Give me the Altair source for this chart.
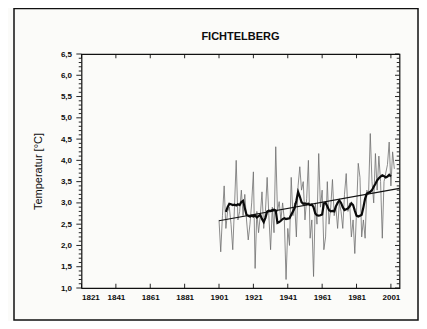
import altair as alt
import pandas as pd

# ---------------- data ----------------
years = list(range(1901, 2004))
annual = [
    2.6, 1.85, 2.7, 3.4, 2.4, 2.8, 2.9, 2.5, 1.9, 2.9,      # 1901-1910
    4.0, 2.6, 2.8, 3.3, 2.7, 3.2, 2.6, 2.13, 2.5, 3.0,      # 1911-1920
    3.73, 1.46, 2.8, 2.3, 2.7, 3.26, 2.4, 2.8, 3.6, 2.7,    # 1921-1930
    1.9, 2.9, 2.3, 4.32, 2.8, 3.03, 2.6, 3.0, 2.6, 1.2,     # 1931-1940
    2.4, 2.0, 3.6, 2.7, 3.0, 2.2, 3.4, 3.85, 3.3, 3.5,      # 1941-1950
    2.6, 3.1, 4.0, 2.17, 2.6, 1.27, 3.0, 2.5, 4.16, 2.9,    # 1951-1960
    3.3, 1.9, 2.2, 3.5, 2.5, 2.9, 3.55, 2.7, 2.9, 2.4,      # 1961-1970
    3.0, 2.8, 2.4, 3.2, 3.69, 2.8, 3.0, 2.2, 2.6, 1.81,     # 1971-1980
    2.8, 3.93, 3.6, 2.2, 2.6, 2.17, 3.3, 3.2, 4.63, 3.5,    # 1981-1990
    3.0, 4.16, 3.3, 4.1, 3.5, 2.17, 3.5, 3.7, 3.9, 4.43,    # 1991-2000
    3.4, 4.2, 3.8,                                          # 2001-2003
]

smooth_years = list(range(1905, 2002))
smooth = [
    2.79, 2.90, 2.98, 2.97, 2.95, 2.96, 2.94, 2.97, 2.95, 3.02,   # 1905-1914
    3.05, 2.88, 2.72, 2.70, 2.68, 2.70, 2.68, 2.71, 2.66, 2.69,   # 1915-1924
    2.72, 2.62, 2.55, 2.65, 2.80, 2.82, 2.81, 2.83, 2.84, 2.82,   # 1925-1934
    2.53, 2.55, 2.58, 2.62, 2.64, 2.62, 2.63, 2.64, 2.72, 2.80,   # 1935-1944
    2.88, 3.05, 3.26, 3.15, 3.02, 2.98, 2.99, 2.97, 2.98, 2.95,   # 1945-1954
    2.96, 2.90, 2.75, 2.71, 2.70, 2.71, 2.73, 2.99, 3.00, 2.92,   # 1955-1964
    2.83, 2.80, 2.81, 2.80, 2.92, 3.00, 3.06, 3.00, 2.90, 2.83,   # 1965-1974
    2.85, 2.87, 2.92, 2.99, 2.95, 2.82, 2.70, 2.68, 2.70, 2.72,   # 1975-1984
    2.90, 3.10, 3.22, 3.24, 3.26, 3.30, 3.38, 3.45, 3.53, 3.58,   # 1985-1994
    3.62, 3.65, 3.63, 3.60, 3.62, 3.66, 3.62,                     # 1995-2001
]

trend_years = [1901, 2006]
trend = [2.58, 3.34]

x_tick_years = [1821, 1841, 1861, 1881, 1901, 1921, 1941, 1961, 1981, 2001]
y_label_values = [1.0, 1.5, 2.0, 2.5, 3.0, 3.5, 4.0, 4.5, 5.0, 5.5, 6.0, 6.5]
y_minor_values = [round(1.0 + 0.1 * i, 1) for i in range(56)]

chart_title = "FICHTELBERG"
y_title = "Temperatur [°C]"

X_MIN, X_MAX = 1821, 2006
Y_MIN, Y_MAX = 1.0, 6.5
FONT = "Liberation Sans"
INK = "#0d0d0d"

# ---------------- tables ----------------
df_annual = pd.DataFrame({"year": years, "temp": annual})
df_smooth = pd.DataFrame({"year": smooth_years, "temp": smooth})
df_trend = pd.DataFrame({"year": trend_years, "temp": trend})

tick_rows = []
for yr in x_tick_years:
    tick_rows.append({"year": yr, "year2": yr, "temp": Y_MIN, "temp2": Y_MIN + 0.1})
    tick_rows.append({"year": yr, "year2": yr, "temp": Y_MAX, "temp2": Y_MAX - 0.1})
for v in y_minor_values:
    major = round(v * 10) % 5 == 0
    tick_rows.append({"year": X_MIN, "year2": X_MIN - (3.0 if major else 1.6), "temp": v, "temp2": v})
    tick_rows.append({"year": X_MAX, "year2": X_MAX - (2.6 if major else 1.6), "temp": v, "temp2": v})
df_ticks = pd.DataFrame(tick_rows)

xs = alt.Scale(domain=[X_MIN, X_MAX], nice=False, zero=False)
ys = alt.Scale(domain=[Y_MIN, Y_MAX], nice=False, zero=False)

x_axis = alt.Axis(
    values=x_tick_years, format="d", title=None, grid=False, ticks=False,
    domain=False, labelFont=FONT, labelFontSize=8, labelFontWeight="bold",
    labelColor=INK, labelPadding=5, labelOverlap=False,
)
y_axis = alt.Axis(
    values=y_label_values, title=y_title, grid=False, ticks=False,
    domain=False, labelFont=FONT, labelFontSize=8, labelFontWeight="bold",
    labelColor=INK, labelPadding=10, labelOverlap=False,
    labelExpr="replace(format(datum.value, '.1f'), '.', ',')",
    titleFont=FONT, titleFontSize=11, titleFontWeight="normal", titleColor=INK,
    titleX=-43.5, titleY=117, titleAngle=270, titleAlign="center", titleBaseline="middle",
)

X = alt.X("year:Q", scale=xs, axis=x_axis)
Y = alt.Y("temp:Q", scale=ys, axis=y_axis)

annual_line = alt.Chart(df_annual).mark_line(color="#6f6f6f", strokeWidth=0.8).encode(x=X, y=Y)
trend_line = alt.Chart(df_trend).mark_line(color="#111", strokeWidth=1.2).encode(x=X, y=Y)
smooth_line = alt.Chart(df_smooth).mark_line(color="#0a0a0a", strokeWidth=2.2).encode(x=X, y=Y)

ticks = alt.Chart(df_ticks).mark_rule(color=INK, strokeWidth=0.9).encode(
    x=X, x2="year2:Q", y=Y, y2="temp2:Q",
)

one = pd.DataFrame({"k": [0]})

title_text = alt.Chart(one).mark_text(
    text=chart_title, font=FONT, fontSize=11, fontWeight="bold", color=INK,
    align="center", baseline="alphabetic",
).encode(x=alt.value(159), y=alt.value(-14))

frame = alt.Chart(one).mark_rect(
    filled=False, stroke="#111", strokeWidth=1.5
).encode(
    x=alt.value(-67.5), x2=alt.value(336.5), y=alt.value(-45.5), y2=alt.value(266)
)

chart = alt.layer(annual_line, trend_line, smooth_line, ticks, title_text, frame).properties(
    width=318,
    height=234,
    autosize=alt.AutoSizeParams(type="none"),
    padding={"left": 73.5, "top": 46, "right": 19.5, "bottom": 33},
    background="#fbfbf9",
).configure_view(stroke="#111", strokeWidth=1.2)

chart.save("out.html", embed_options={"renderer": "svg", "actions": False})
